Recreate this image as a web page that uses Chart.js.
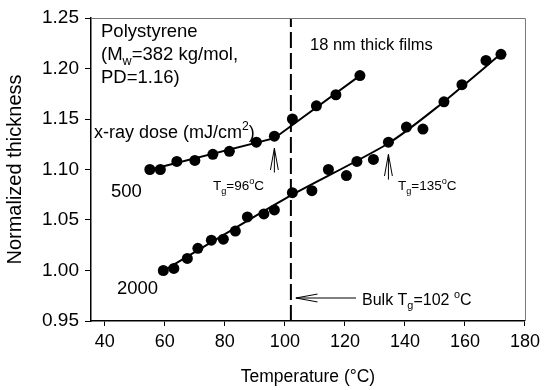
<!DOCTYPE html>
<html>
<head>
<meta charset="utf-8">
<script src="https://cdn.jsdelivr.net/npm/chart.js@4.4.1/dist/chart.umd.min.js"></script>
<style>
  html, body { margin: 0; padding: 0; background: #fff; }
  #wrap { width: 545px; height: 390px; }
</style>
</head>
<body>
<div id="wrap"><canvas id="grafico" width="545" height="390"></canvas></div>
<script>
// dados
const temp500 = [55, 58.5, 64, 70, 76, 81.5, 90.5, 96.5, 102.5, 110.5, 117, 125];
const thick500 = [1.100, 1.100, 1.108, 1.109, 1.115, 1.118, 1.127, 1.133, 1.150, 1.163, 1.174, 1.193];

const temp2000 = [59.5, 63, 67.5, 71, 75.5, 79.5, 83.5, 87.5, 93, 96.5, 102.5, 109, 114.5, 120.5, 124, 129.5, 134.5, 140.5, 146, 153, 159, 167, 172];
const thick2000 = [1.000, 1.002, 1.012, 1.022, 1.030, 1.031, 1.039, 1.053, 1.056, 1.060, 1.077, 1.079, 1.100, 1.094, 1.108, 1.110, 1.127, 1.142, 1.140, 1.167, 1.184, 1.208, 1.214];

// linhas de ajuste
const fit500T = [54, 96.5, 125];
const fit500Y = [1.099, 1.131, 1.193];
const fit2000T = [58, 100, 134, 150, 173];
const fit2000Y = [0.997, 1.071, 1.125, 1.160, 1.217];

const bulkTg = 102;
const xTicks = [40, 60, 80, 100, 120, 140, 160, 180];
const yTicks = [0.95, 1.00, 1.05, 1.10, 1.15, 1.20, 1.25];

const FONTE = '"Liberation Sans", Arial, sans-serif';

const pares = (xs, ys) => xs.map((x, i) => ({ x: x, y: ys[i] }));

// texto com sub/sobrescrito: [texto, modo] 0 normal, 1 sub, 2 sup
function textoRico(ctx, x, y, partes, tam) {
    let cx = x;
    partes.forEach(([t, modo]) => {
        const s = modo ? tam * 0.68 : tam;
        const dy = modo === 1 ? tam * 0.28 : (modo === 2 ? -tam * 0.42 : 0);
        ctx.font = s + 'px ' + FONTE;
        ctx.fillText(t, cx, y + dy);
        cx += ctx.measureText(t).width;
    });
}

function seta(ctx, x1, y1, x2, y2) {
    // seta aberta com ponta em (x2, y2)
    const ang = Math.atan2(y2 - y1, x2 - x1);
    const L = 22, a = 0.18;
    ctx.beginPath();
    ctx.moveTo(x1, y1);
    ctx.lineTo(x2, y2);
    ctx.moveTo(x2 - L * Math.cos(ang - a), y2 - L * Math.sin(ang - a));
    ctx.lineTo(x2, y2);
    ctx.lineTo(x2 - L * Math.cos(ang + a), y2 - L * Math.sin(ang + a));
    ctx.stroke();
}

const anotacoes = {
    id: 'anotacoes',
    afterDatasetsDraw(chart) {
        const ctx = chart.ctx;
        const xs = chart.scales.x, ys = chart.scales.y;
        const area = chart.chartArea;
        ctx.save();
        // moldura superior e direita
        ctx.strokeStyle = '#777';
        ctx.lineWidth = 1;
        ctx.beginPath();
        ctx.moveTo(area.left, area.top + 0.5);
        ctx.lineTo(area.right + 0.5, area.top + 0.5);
        ctx.lineTo(area.right + 0.5, area.bottom);
        ctx.stroke();

        ctx.fillStyle = '#000';
        ctx.textBaseline = 'alphabetic';
        ctx.textAlign = 'left';
        textoRico(ctx, 101, 37, [['Polystyrene', 0]], 18.5);
        textoRico(ctx, 101, 60, [['(M', 0], ['w', 1], ['=382 kg/mol,', 0]], 18.5);
        textoRico(ctx, 101, 83, [['PD=1.16)', 0]], 18.5);
        textoRico(ctx, 94, 138, [['x-ray dose (mJ/cm', 0], ['2', 2], [')', 0]], 18);
        textoRico(ctx, 111, 197, [['500', 0]], 18.5);
        textoRico(ctx, 117, 294, [['2000', 0]], 18.5);
        textoRico(ctx, 310, 50, [['18 nm thick films', 0]], 16.5);
        textoRico(ctx, 213, 190, [['T', 0], ['g', 1], ['=96', 0], ['o', 2], ['C', 0]], 13.5);
        textoRico(ctx, 398, 190, [['T', 0], ['g', 1], ['=135', 0], ['o', 2], ['C', 0]], 13.5);
        textoRico(ctx, 362, 305, [['Bulk T', 0], ['g', 1], ['=102 ', 0], ['o', 2], ['C', 0]], 16);

        ctx.strokeStyle = '#000';
        ctx.lineWidth = 1;
        seta(ctx, xs.getPixelForValue(96.5), ys.getPixelForValue(1.097), xs.getPixelForValue(96.5), ys.getPixelForValue(1.121));
        seta(ctx, xs.getPixelForValue(134.5), ys.getPixelForValue(1.090), xs.getPixelForValue(134.5), ys.getPixelForValue(1.115));
        seta(ctx, 356, 298, xs.getPixelForValue(bulkTg) + 5, 298);
        ctx.restore();
    }
};

new Chart(document.getElementById('grafico'), {
    type: 'scatter',
    data: {
        datasets: [
            {
                label: 'Bulk Tg',
                data: [{ x: bulkTg, y: 0.95 }, { x: bulkTg, y: 1.25 }],
                showLine: true,
                borderColor: '#000',
                borderWidth: 2,
                borderDash: [16, 5],
                pointRadius: 0
            },
            {
                label: 'ajuste 500',
                data: pares(fit500T, fit500Y),
                showLine: true,
                borderColor: '#000',
                borderWidth: 2,
                pointRadius: 0
            },
            {
                label: 'ajuste 2000',
                data: pares(fit2000T, fit2000Y),
                showLine: true,
                borderColor: '#000',
                borderWidth: 2,
                tension: 0.25,
                pointRadius: 0
            },
            {
                label: '500',
                data: pares(temp500, thick500),
                showLine: false,
                pointRadius: 5.5,
                pointBackgroundColor: '#000',
                pointBorderColor: '#000',
                pointBorderWidth: 0
            },
            {
                label: '2000',
                data: pares(temp2000, thick2000),
                showLine: false,
                pointRadius: 5.5,
                pointBackgroundColor: '#000',
                pointBorderColor: '#000',
                pointBorderWidth: 0
            }
        ]
    },
    options: {
        responsive: false,
        animation: false,
        layout: { padding: { top: 18, right: 18, left: 0, bottom: 0 } },
        plugins: {
            legend: { display: false },
            tooltip: { enabled: false }
        },
        scales: {
            x: {
                type: 'linear',
                min: 35.4,
                max: 180,
                afterFit: s => { s.height = 69; },
                afterBuildTicks: s => { s.ticks = xTicks.map(v => ({ value: v })); },
                grid: { display: true, drawOnChartArea: false, color: '#000', tickLength: 5 },
                border: { display: true, color: '#000', width: 1.5 },
                ticks: { color: '#000', font: { family: FONTE, size: 18 }, padding: 5, maxRotation: 0 },
                title: {
                    display: true,
                    text: 'Temperature (°C)',
                    color: '#000',
                    font: { family: FONTE, size: 17.5 },
                    padding: { top: 0, bottom: 2 }
                }
            },
            y: {
                type: 'linear',
                min: 0.95,
                max: 1.25,
                afterFit: s => { s.width = 91; },
                afterBuildTicks: s => { s.ticks = yTicks.map(v => ({ value: v })); },
                grid: { display: true, drawOnChartArea: false, color: '#000', tickLength: 6 },
                border: { display: true, color: '#000', width: 1.5 },
                ticks: {
                    color: '#000',
                    font: { family: FONTE, size: 19 },
                    padding: 6,
                    callback: v => v.toFixed(2)
                },
                title: {
                    display: true,
                    text: 'Normalized thickness',
                    color: '#000',
                    font: { family: FONTE, size: 20 },
                    padding: { top: 3, bottom: 0 }
                }
            }
        }
    },
    plugins: [anotacoes]
});
</script>
</body>
</html>
